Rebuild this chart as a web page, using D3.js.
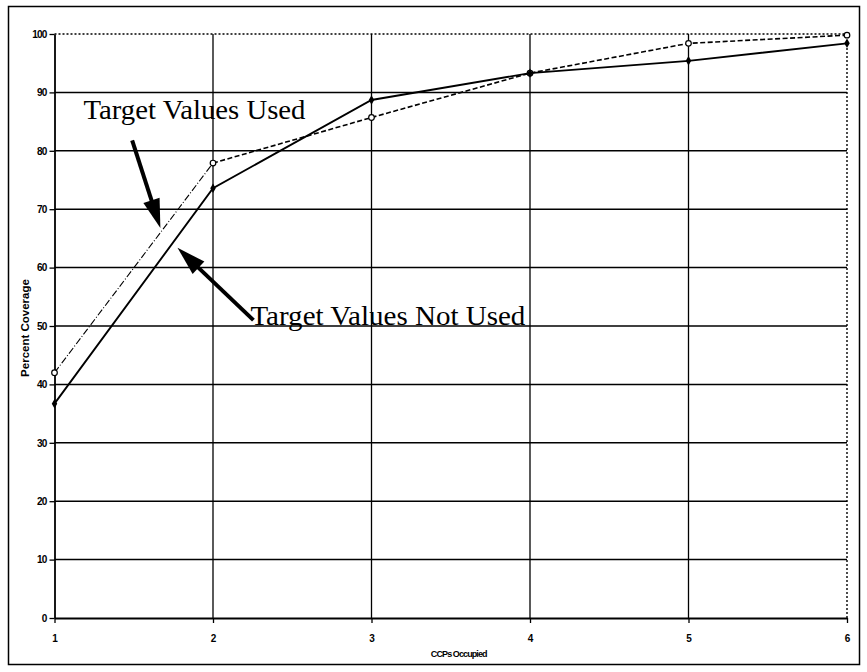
<!DOCTYPE html>
<html><head><meta charset="utf-8">
<script src="https://cdn.jsdelivr.net/npm/d3@7"></script>
<style>
html,body{margin:0;padding:0;background:#fff;}
svg{display:block;}
</style></head>
<body>
<script>
// ---- data ----
const ccps = [1, 2, 3, 4, 5, 6];
const notUsed = [36.7, 73.6, 88.7, 93.3, 95.4, 98.4];   // solid line
const used    = [42.0, 77.9, 85.7, 93.3, 98.4, 99.8];   // dashed line
const yTicks = [0, 10, 20, 30, 40, 50, 60, 70, 80, 90, 100];
const xTicks = [1, 2, 3, 4, 5, 6];
const xTitle = "CCPs Occupied";
const yTitle = "Percent Coverage";
// annotations in data units
const labelUsed    = {text: "Target Values Used",     x: 1.183, y: 85.4};
const labelNotUsed = {text: "Target Values Not Used", x: 2.236, y: 50.2};
const arrowUsed    = {x1: 1.49, y1: 81.8, x2: 1.668, y2: 66.8};
const arrowNotUsed = {x1: 2.255, y1: 51.0, x2: 1.776, y2: 63.4};

const W = 867, H = 672;
const svg = d3.select("body").append("svg").attr("width", W).attr("height", H);

// outer frame
svg.append("rect").attr("x", 8.5).attr("y", 6.5).attr("width", 851).attr("height", 658)
  .attr("fill", "none").attr("stroke", "#000").attr("stroke-width", 1.5);

const x = d3.scaleLinear().domain([1, 6]).range([54.5, 847]);
const y = d3.scaleLinear().domain([0, 100]).range([618, 34]);

const g = svg.append("g");

// horizontal gridlines
g.selectAll("line.hg").data(yTicks.filter(v => v > 0)).enter().append("line")
  .attr("x1", x(1)).attr("x2", x(6))
  .attr("y1", d => y(d)).attr("y2", d => y(d))
  .attr("stroke", "#000")
  .attr("stroke-width", d => d === 100 ? 1.4 : 1.5)
  .attr("stroke-dasharray", d => d === 100 ? "2,2" : null);

// vertical gridlines
g.selectAll("line.vg").data(xTicks.filter(v => v > 1)).enter().append("line")
  .attr("x1", d => x(d)).attr("x2", d => x(d))
  .attr("y1", y(0)).attr("y2", y(100))
  .attr("stroke", "#000")
  .attr("stroke-width", d => d === 6 ? 1.4 : 1.3)
  .attr("stroke-dasharray", d => d === 6 ? "2,2" : null);

// axes
const yAxis = d3.axisLeft(y).tickValues(yTicks).tickSize(5).tickSizeOuter(0).tickPadding(3);
const ya = g.append("g").attr("transform", `translate(${x(1)},0)`).call(yAxis);
ya.select(".domain").attr("stroke-width", 1.8);
ya.selectAll(".tick line").attr("stroke-width", 1.3);
ya.selectAll("text").attr("font-family", "Liberation Sans, Arial, sans-serif")
  .attr("font-weight", "bold").attr("font-size", 10).attr("fill", "#000")
  .attr("letter-spacing", "-0.8");

const xAxis = d3.axisBottom(x).tickValues(xTicks).tickSize(5).tickSizeOuter(0).tickPadding(12).tickFormat(d3.format("d"));
const xa = g.append("g").attr("transform", `translate(0,${y(0)})`).call(xAxis);
xa.select(".domain").attr("stroke-width", 1.8);
xa.selectAll(".tick line").attr("stroke-width", 1.3);
xa.selectAll("text").attr("font-family", "Liberation Sans, Arial, sans-serif")
  .attr("font-weight", "bold").attr("font-size", 10).attr("fill", "#000");

// axis titles
svg.append("text").text(xTitle)
  .attr("x", (x(1) + x(6)) / 2 + 8).attr("y", 657)
  .attr("text-anchor", "middle")
  .attr("font-family", "Liberation Sans, Arial, sans-serif").attr("font-weight", "bold")
  .attr("font-size", 9).attr("letter-spacing", "-0.9");

svg.append("text").text(yTitle)
  .attr("transform", `translate(29,${y(50) + 2}) rotate(-90)`)
  .attr("text-anchor", "middle")
  .attr("font-family", "Liberation Sans, Arial, sans-serif").attr("font-weight", "bold")
  .attr("font-size", 11.5);

// series
const ptsNot = ccps.map((c, i) => [c, notUsed[i]]);
const ptsUsed = ccps.map((c, i) => [c, used[i]]);
const line = d3.line().x(d => x(d[0])).y(d => y(d[1]));

// dashed series: first segment dash-dot thin, rest dashed
g.append("path").attr("d", line(ptsUsed.slice(0, 2)))
  .attr("fill", "none").attr("stroke", "#000").attr("stroke-width", 1.1)
  .attr("stroke-dasharray", "7,2,1,2");
g.append("path").attr("d", line(ptsUsed.slice(1)))
  .attr("fill", "none").attr("stroke", "#000").attr("stroke-width", 1.6)
  .attr("stroke-dasharray", "5,2.5");

g.append("path").attr("d", line(ptsNot))
  .attr("fill", "none").attr("stroke", "#000").attr("stroke-width", 1.9);

// markers
g.selectAll("circle.u").data(ptsUsed).enter().append("circle")
  .attr("cx", d => x(d[0])).attr("cy", d => y(d[1])).attr("r", 2.8)
  .attr("fill", "#fff").attr("stroke", "#000").attr("stroke-width", 1.2);
g.selectAll("path.n").data(ptsNot).enter().append("path")
  .attr("d", d3.symbol(d3.symbolDiamond, 26))
  .attr("transform", d => `translate(${x(d[0])},${y(d[1])})`)
  .attr("fill", "#000");

// arrows (shaft + triangular head)
const HEAD_LEN = 29, HEAD_HALF = 8.5;
[arrowUsed, arrowNotUsed].forEach(a => {
  const sx = x(a.x1), sy = y(a.y1), tx = x(a.x2), ty = y(a.y2);
  const ang = Math.atan2(ty - sy, tx - sx);
  const bx = tx - HEAD_LEN * Math.cos(ang), by = ty - HEAD_LEN * Math.sin(ang);
  const px = -Math.sin(ang), py = Math.cos(ang);
  svg.append("line")
    .attr("x1", sx).attr("y1", sy).attr("x2", bx + 2 * Math.cos(ang)).attr("y2", by + 2 * Math.sin(ang))
    .attr("stroke", "#000").attr("stroke-width", 4);
  svg.append("path")
    .attr("d", `M${tx},${ty} L${bx + HEAD_HALF * px},${by + HEAD_HALF * py} L${bx - HEAD_HALF * px},${by - HEAD_HALF * py} Z`)
    .attr("fill", "#000");
});

// annotation labels
svg.append("text").text(labelUsed.text)
  .attr("x", x(labelUsed.x)).attr("y", y(labelUsed.y))
  .attr("font-family", "Liberation Serif, Times New Roman, serif").attr("font-size", 28)
  .attr("textLength", 222).attr("lengthAdjust", "spacingAndGlyphs");
svg.append("text").text(labelNotUsed.text)
  .attr("x", x(labelNotUsed.x)).attr("y", y(labelNotUsed.y))
  .attr("font-family", "Liberation Serif, Times New Roman, serif").attr("font-size", 28)
  .attr("textLength", 275).attr("lengthAdjust", "spacingAndGlyphs");
</script>
</body></html>
